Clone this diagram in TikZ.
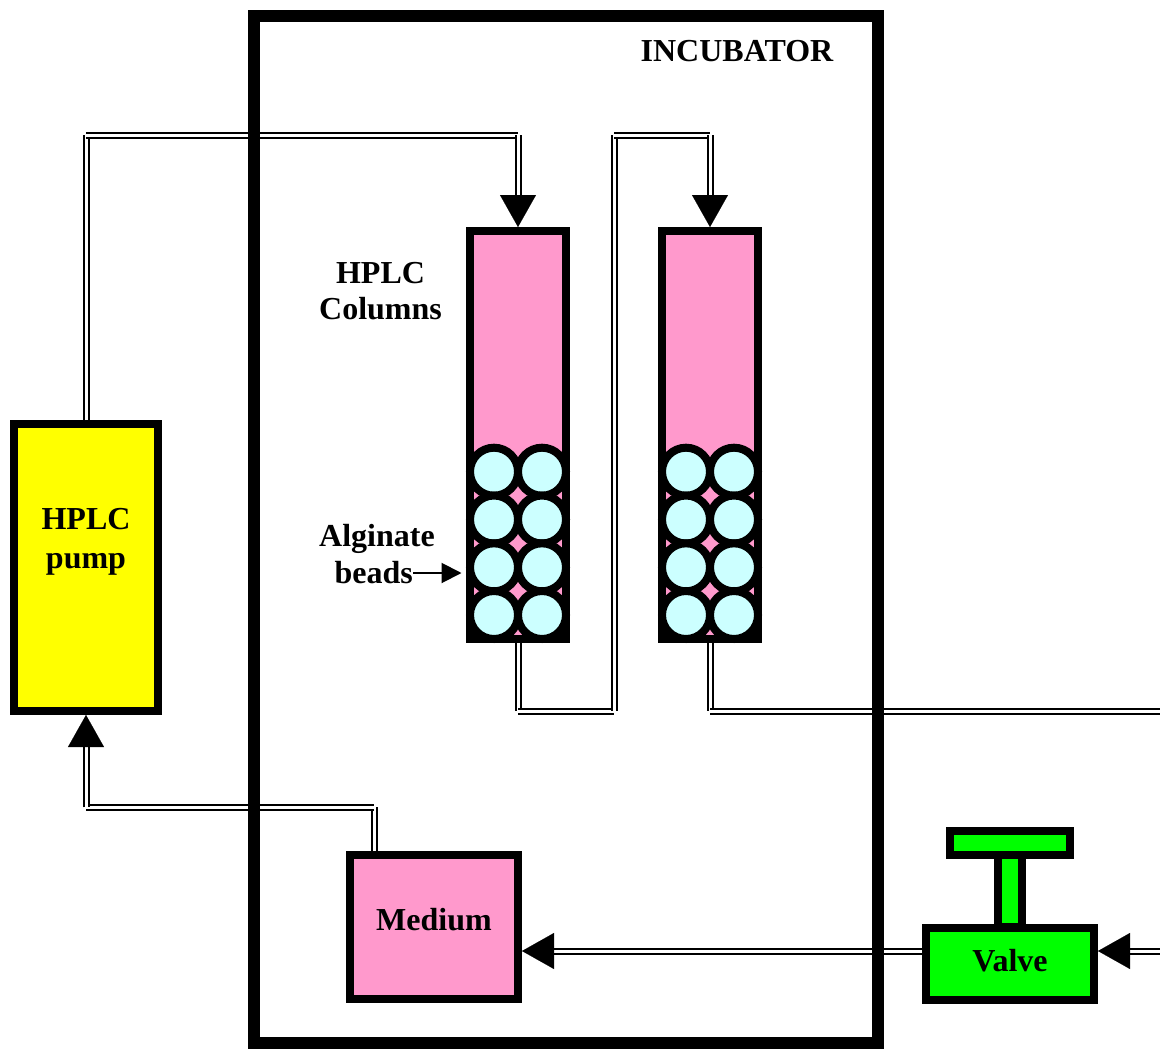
\documentclass[tikz,border=0pt]{standalone}
\usepackage{fontspec}
\setmainfont{Liberation Serif}
\usetikzlibrary{arrows.meta}
\definecolor{pinkfill}{HTML}{FF99CC}
\definecolor{beadfill}{HTML}{CCFFFF}
\definecolor{pumpfill}{HTML}{FFFF00}
\definecolor{valvefill}{HTML}{00FF00}
\tikzset{
  unit/.style={draw=black,line width=8pt,inner sep=0pt,rectangle},
  colbox/.style={unit,fill=pinkfill,minimum width=96pt,minimum height=408pt},
  bead/.style={circle,draw=black,line width=8pt,fill=beadfill,minimum size=48pt,inner sep=0pt},
  pipe/.style={draw=black,line width=2pt,double=white,double distance=3pt,line cap=butt},
  tip/.style={draw=black,line width=0.1pt,-{Triangle[length=32pt,width=36pt,fill=black]}},
  lbl/.style={font=\fontsize{32}{39}\selectfont\bfseries,inner sep=0pt,align=center,text=black},
}
\begin{document}
\begin{tikzpicture}[x=1pt,y=-1pt]
\useasboundingbox (0,0) rectangle (1160,1049);
% units
\node[unit,fill=pumpfill,minimum width=144pt,minimum height=287pt] (pump) at (86,567.5) {};
\node[lbl] (pumplbl) at (86,541.5) {HPLC\\pump};
\node[colbox] (col1) at (518,435) {};
\node[colbox] (col2) at (710,435) {};
\foreach \c/\x in {col1/518,col2/710}{
  \foreach \r/\y in {a/471.7,b/519.5,c/567.3,d/615}{
    \node[bead] (\c l\r) at (\x-24,\y) {};
    \node[bead] (\c r\r) at (\x+24,\y) {};
  }
}
\node[unit,fill=pinkfill,minimum width=168pt,minimum height=144pt] (medium) at (434,927) {};
\node[lbl] (mediumlbl) at (434,920) {Medium};
\node[unit,fill=valvefill,minimum width=120pt,minimum height=24pt] (thandle) at (1010,843) {};
\node[unit,fill=valvefill,minimum width=24pt,minimum height=72pt] (stem) at (1010,891) {};
\node[unit,fill=valvefill,minimum width=168pt,minimum height=72pt] (valve) at (1010,963.5) {};
\node[lbl] (valvelbl) at (1010,961) {Valve};
% bend coordinates
\coordinate (p1) at (86,135);
\coordinate (p2) at (518,135);
\coordinate (p3) at (518,197);
\coordinate (q1) at (518,711);
\coordinate (q2) at (614,711);
\coordinate (q3) at (614,135);
\coordinate (q4) at (710,135);
\coordinate (q5) at (710,197);
\coordinate (r1) at (710,711);
\coordinate (r2) at (1160,711);
\coordinate (s1) at (374,807.3);
\coordinate (s2) at (86,807.3);
\coordinate (s3) at (86,746);
\coordinate (t1) at (1160,951);
\coordinate (t2) at (1129,951);
\coordinate (t3) at (553,951);
\coordinate (t4) at (922,951);
% pipes
\draw[pipe] (pump.north) -- (p1);
\draw[pipe] (p1) -- (p2);
\draw[pipe] (p2) -- (p3);
\draw[pipe] (col1.south) -- (q1);
\draw[pipe] (q1) -- (q2);
\draw[pipe] (q2) -- (q3);
\draw[pipe] (q3) -- (q4);
\draw[pipe] (q4) -- (q5);
\draw[pipe] (col2.south) -- (r1);
\draw[pipe] (r1) -- (r2);
\draw[pipe] (medium.north -| s1) -- (s1);
\draw[pipe] (s1) -- (s2);
\draw[pipe] (s2) -- (s3);
\draw[pipe] (t1) -- (t2);
\draw[pipe] (t4) -- (t3);
% arrowheads
\draw[tip] (p3) -- (col1.north);
\draw[tip] (q5) -- (col2.north);
\draw[tip] (s3) -- (pump.south);
\draw[tip] (t2) -- (valve.east |- t2);
\draw[tip] (t3) -- (medium.east |- t3);
% incubator
\node[draw=black,line width=12pt,inner sep=0pt,minimum width=624pt,minimum height=1027pt] (incubator) at (566,529.5) {};
% labels
\node[lbl] (inclbl) at (737,51) {INCUBATOR};
\node[lbl] (hplclbl) at (380.5,291) {HPLC\\[-3pt]Columns};
\node[lbl] (alglbl) at (377,539) {Alginate};
\node[lbl,anchor=east] (beadslbl) at (413,573) {beads};
\coordinate (beadtip) at (461.5,573);
\draw[line width=2pt,-{Triangle[length=20pt,width=20pt,fill=black]}] (beadslbl.east) -- (beadtip);
\end{tikzpicture}
\end{document}
